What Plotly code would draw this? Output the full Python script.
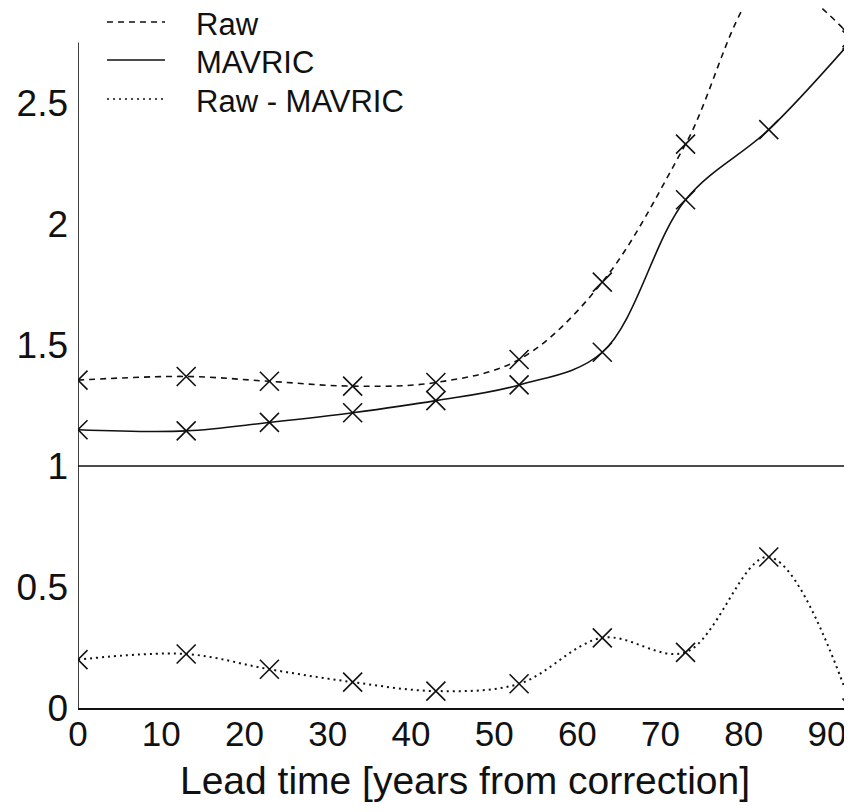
import plotly.graph_objects as go

lead_time = [0, 13, 23, 33, 43, 53, 63, 73, 83, 93]
raw = [1.355, 1.37, 1.35, 1.33, 1.345, 1.44, 1.76, 2.33, 3.0, 2.77]
mavric = [1.15, 1.145, 1.18, 1.22, 1.27, 1.335, 1.47, 2.10, 2.39, 2.76]
raw_minus_mavric = [0.20, 0.223, 0.16, 0.107, 0.07, 0.10, 0.29, 0.23, 0.624, 0.0]

series_names = ["Raw", "MAVRIC", "Raw - MAVRIC"]
x_ticks = [0, 10, 20, 30, 40, 50, 60, 70, 80, 90]
y_ticks = [0, 0.5, 1, 1.5, 2, 2.5]
y_tick_text = ["0", "0.5", "1", "1.5", "2", "2.5"]

INK = "#111111"
FONT = "Liberation Sans, Arial, sans-serif"
styles = {
    "Raw": dict(dash="6px,5px", width=1.6),
    "MAVRIC": dict(dash="solid", width=1.6),
    "Raw - MAVRIC": dict(dash="2px,4px", width=2.0),
}

fig = go.Figure()
for name, vals in zip(series_names, [raw, mavric, raw_minus_mavric]):
    st = styles[name]
    fig.add_trace(go.Scatter(
        x=lead_time, y=vals, mode="lines+markers", name=name,
        showlegend=False,
        line=dict(color=INK, width=st["width"], dash=st["dash"], shape="spline", smoothing=1.0),
        marker=dict(symbol="x-thin", size=19, color=INK, line=dict(width=1.6, color=INK)),
    ))

# page has an 8px body margin on every side
OFF = 8
W, H = 852 - OFF, 812 - 2 * OFF
ML, MR, MT = 78 - OFF, 0, 0
plot_h = 708 - OFF           # axis bottom at page y=708
MB = H - MT - plot_h
plot_w = W - ML - MR
px_per_unit = 242.0
y_top = plot_h / px_per_unit

shapes = [
    dict(type="line", xref="x", yref="y", x0=0, x1=0, y0=0, y1=2.75,
         line=dict(color=INK, width=1.6)),
    dict(type="line", xref="paper", yref="y", x0=0, x1=1, y0=1, y1=1,
         line=dict(color=INK, width=1.6)),
]
annotations = []

def px_to_paper(px, py):
    return (px - OFF - ML) / plot_w, (OFF + MT + plot_h - py) / plot_h

legend_rows = [22, 60, 99]
for name, row in zip(series_names, legend_rows):
    x0, yy = px_to_paper(107, row)
    x1, _ = px_to_paper(165, row)
    st = styles[name]
    shapes.append(dict(type="line", xref="paper", yref="paper", x0=x0, x1=x1, y0=yy, y1=yy,
                       line=dict(color=INK, width=st["width"] * 0.8, dash=st["dash"])))
    tx, ty = px_to_paper(194, row + 2)
    annotations.append(dict(xref="paper", yref="paper", x=tx, y=ty, text=name,
                            showarrow=False, xanchor="left", yanchor="middle",
                            font=dict(family=FONT, size=31, color=INK)))

fig.update_layout(
    width=W, height=H,
    margin=dict(l=ML, r=MR, t=MT, b=MB, pad=0),
    paper_bgcolor="white", plot_bgcolor="white",
    showlegend=False,
    shapes=shapes,
    annotations=annotations,
    xaxis=dict(
        range=[0, 93], tickvals=x_ticks, ticktext=[str(v) for v in x_ticks],
        automargin=False,
        showgrid=False, zeroline=False, showline=True, linecolor=INK, linewidth=1.6,
        ticks="", ticklabelstandoff=-6,
        tickfont=dict(family=FONT, size=35, color=INK),
        title=dict(text="Lead time [years from correction]", standoff=15,
                   font=dict(family=FONT, size=39, color=INK)),
    ),
    yaxis=dict(
        range=[0, y_top], tickvals=y_ticks, ticktext=y_tick_text,
        automargin=False,
        showgrid=False, zeroline=False, showline=False,
        ticks="", ticklabelstandoff=9,
        tickfont=dict(family=FONT, size=37, color=INK),
    ),
)

fig.write_html("out.html")
